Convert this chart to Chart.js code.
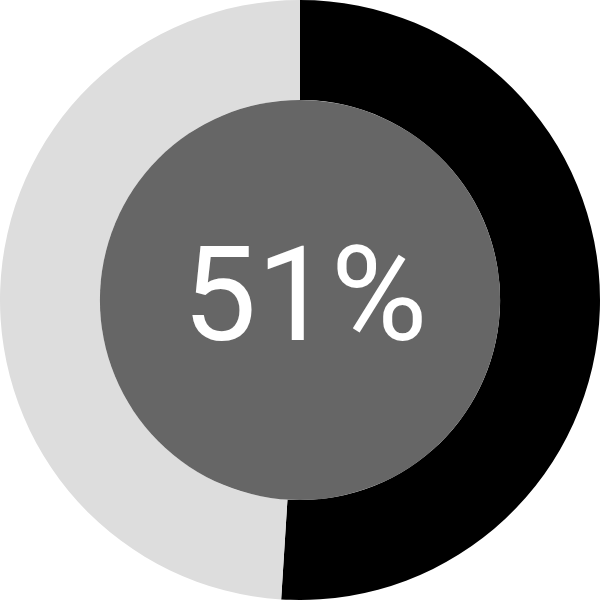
<!DOCTYPE html>
<html>
<head>
<meta charset="utf-8">
<script src="https://cdn.jsdelivr.net/npm/chart.js@4/dist/chart.umd.min.js"></script>
<style>
  html, body { margin: 0; padding: 0; background: #fff; }
  #wrap { width: 600px; height: 600px; }
</style>
</head>
<body>
<div id="wrap"><canvas id="chart"></canvas></div>
<script>
var labels = ["Done", "Remaining"];
var values = [51, 49];
var colors = ["#000000", "#dddddd"];
var centerText = "51%";

// fills the hole and writes the percentage in it
var centerPlugin = {
    id: 'centerPlugin',
    afterDatasetsDraw: function(chart) {
        var arc = chart.getDatasetMeta(0).data[0];
        if (!arc) return;
        var ctx = chart.ctx;
        ctx.save();
        ctx.beginPath();
        ctx.arc(arc.x, arc.y, arc.innerRadius, 0, Math.PI * 2);
        ctx.fillStyle = "#666666";
        ctx.fill();
        ctx.fillStyle = "#ffffff";
        ctx.font = "132px Roboto";
        ctx.textAlign = "center";
        ctx.textBaseline = "alphabetic";
        ctx.fillText(centerText, arc.x + 5, arc.y + 40);
        ctx.restore();
    }
};

var config = {
    type: 'doughnut',
    data: {
        labels: labels,
        datasets: [{
            data: values,
            backgroundColor: colors,
            borderWidth: 0
        }]
    },
    options: {
        responsive: true,
        maintainAspectRatio: false,
        cutout: '66.7%',
        animation: false,
        plugins: {
            legend: { display: false },
            tooltip: { enabled: false }
        }
    },
    plugins: [centerPlugin]
};

var ctx = document.getElementById("chart");
window.myChart = new Chart(ctx, config);
</script>
</body>
</html>
